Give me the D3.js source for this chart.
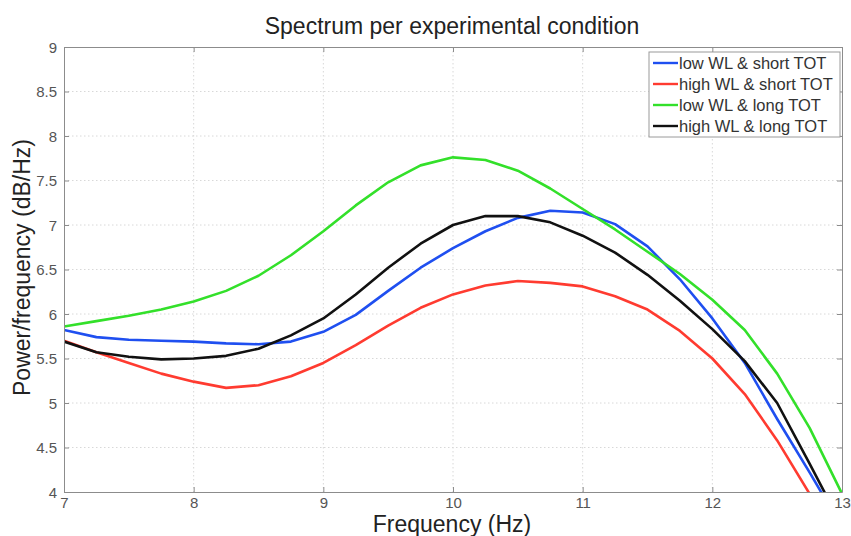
<!DOCTYPE html>
<html>
<head>
<meta charset="utf-8">
<script src="https://cdn.jsdelivr.net/npm/d3@7"></script>
<style>
  body { margin: 0; background: #fff; }
  svg { font-family: "Liberation Sans", Arial, sans-serif; }
  .grid line { stroke: #d8d8d8; stroke-dasharray: 1.5 2.5; }
  .tick text { fill: #555; font-size: 15px; }
</style>
</head>
<body>
<svg id="chart" width="851" height="536"></svg>
<script>
// frequency samples (Hz)
const freqs = [7, 7.25, 7.5, 7.75, 8, 8.25, 8.5, 8.75, 9, 9.25, 9.5, 9.75, 10,
	10.25, 10.5, 10.75, 11, 11.25, 11.5, 11.75, 12, 12.25, 12.5, 12.75, 13];

const lowWLshort = [5.82, 5.74, 5.71, 5.70, 5.69, 5.67, 5.66, 5.69, 5.80, 5.99, 6.26, 6.52, 6.74,
	6.93, 7.08, 7.16, 7.14, 7.01, 6.76, 6.39, 5.95, 5.45, 4.82, 4.22, 3.60];
const highWLshort = [5.70, 5.57, 5.45, 5.33, 5.24, 5.17, 5.20, 5.30, 5.45, 5.65, 5.87, 6.07, 6.22,
	6.32, 6.37, 6.35, 6.31, 6.20, 6.05, 5.81, 5.50, 5.10, 4.58, 3.98, 3.35];
const lowWLlong = [5.86, 5.92, 5.98, 6.05, 6.14, 6.26, 6.43, 6.66, 6.93, 7.22, 7.48, 7.67, 7.76,
	7.73, 7.61, 7.41, 7.18, 6.95, 6.70, 6.45, 6.16, 5.82, 5.33, 4.72, 3.98];
const highWLlong = [5.69, 5.57, 5.52, 5.49, 5.50, 5.53, 5.61, 5.76, 5.95, 6.22, 6.52, 6.79, 7.00,
	7.10, 7.10, 7.03, 6.88, 6.69, 6.44, 6.15, 5.83, 5.47, 5.00, 4.32, 3.62];

const seriesNames = ["low WL & short TOT", "high WL & short TOT", "low WL & long TOT", "high WL & long TOT"];
const seriesColors = ["#1f4ff0", "#ff3b30", "#33e02a", "#111111"];
const seriesValues = [lowWLshort, highWLshort, lowWLlong, highWLlong];

const xTicks = [7, 8, 9, 10, 11, 12, 13];
const yTicks = [4, 4.5, 5, 5.5, 6, 6.5, 7, 7.5, 8, 8.5, 9];

const margin = {top: 47, right: 9, bottom: 44, left: 64};
const width = 851 - margin.left - margin.right,
	height = 536 - margin.top - margin.bottom;

const svg = d3.select("#chart");
const g = svg.append("g").attr("transform", `translate(${margin.left},${margin.top})`);

const x = d3.scaleLinear().domain([7, 13]).range([0, width]);
const y = d3.scaleLinear().domain([4, 9]).range([height, 0]);

// grid
g.append("g").attr("class", "grid")
	.selectAll("line.v").data(xTicks.slice(1, -1)).enter().append("line")
	.attr("x1", d => x(d)).attr("x2", d => x(d)).attr("y1", 0).attr("y2", height);
g.append("g").attr("class", "grid")
	.selectAll("line.h").data(yTicks.slice(1, -1)).enter().append("line")
	.attr("x1", 0).attr("x2", width).attr("y1", d => y(d)).attr("y2", d => y(d));

// clip
g.append("clipPath").attr("id", "clip")
	.append("rect").attr("width", width).attr("height", height);

const line = d3.line()
	.x((d, i) => x(freqs[i]))
	.y(d => y(d));

g.append("g").attr("clip-path", "url(#clip)")
	.selectAll("path").data(seriesValues).enter().append("path")
	.attr("d", line)
	.attr("fill", "none")
	.attr("stroke", (d, i) => seriesColors[i])
	.attr("stroke-width", 2.6)
	.attr("stroke-linejoin", "round");

// axes (matlab style, ticks pointing inward)
const xAxis = g.append("g").attr("transform", `translate(0,${height})`)
	.call(d3.axisBottom(x).tickValues(xTicks).tickFormat(d3.format("d")).tickSizeInner(-5).tickSizeOuter(0).tickPadding(5));
const yAxis = g.append("g")
	.call(d3.axisLeft(y).tickValues(yTicks).tickFormat(d => d).tickSizeInner(-5).tickSizeOuter(0).tickPadding(7));
g.append("g")
	.call(d3.axisTop(x).tickValues(xTicks).tickFormat("").tickSizeInner(-5).tickSizeOuter(0));
g.append("g").attr("transform", `translate(${width},0)`)
	.call(d3.axisRight(y).tickValues(yTicks).tickFormat("").tickSizeInner(-5).tickSizeOuter(0));
g.selectAll(".domain, .tick line").attr("stroke", "#8c8c8c");
yAxis.selectAll(".tick text").attr("dy", "0.35em");

// titles
svg.append("text")
	.attr("x", margin.left + width / 2 - 1).attr("y", 34)
	.attr("text-anchor", "middle").attr("font-size", 23).attr("fill", "#222")
	.text("Spectrum per experimental condition");
svg.append("text")
	.attr("x", margin.left + width / 2 - 1).attr("y", 532)
	.attr("text-anchor", "middle").attr("font-size", 23).attr("fill", "#222")
	.text("Frequency (Hz)");
svg.append("text")
	.attr("transform", `translate(30,${margin.top + height / 2 - 2}) rotate(-90)`)
	.attr("text-anchor", "middle").attr("font-size", 23).attr("fill", "#222")
	.text("Power/frequency (dB/Hz)");

// legend
const legend = g.append("g").attr("transform", `translate(${width - 193},5)`);
legend.append("rect")
	.attr("width", 191).attr("height", 85)
	.attr("fill", "#fff").attr("stroke", "#9a9a9a");
const items = legend.selectAll("g.item").data(seriesNames).enter().append("g")
	.attr("transform", (d, i) => `translate(0,${11 + i * 21})`);
items.append("line")
	.attr("x1", 4).attr("x2", 29).attr("y1", 0).attr("y2", 0)
	.attr("stroke", (d, i) => seriesColors[i]).attr("stroke-width", 2.4);
items.append("text")
	.attr("x", 30).attr("y", 0).attr("dy", "0.35em")
	.attr("font-size", 16.5).attr("fill", "#333")
	.text(d => d);
</script>
</body>
</html>
